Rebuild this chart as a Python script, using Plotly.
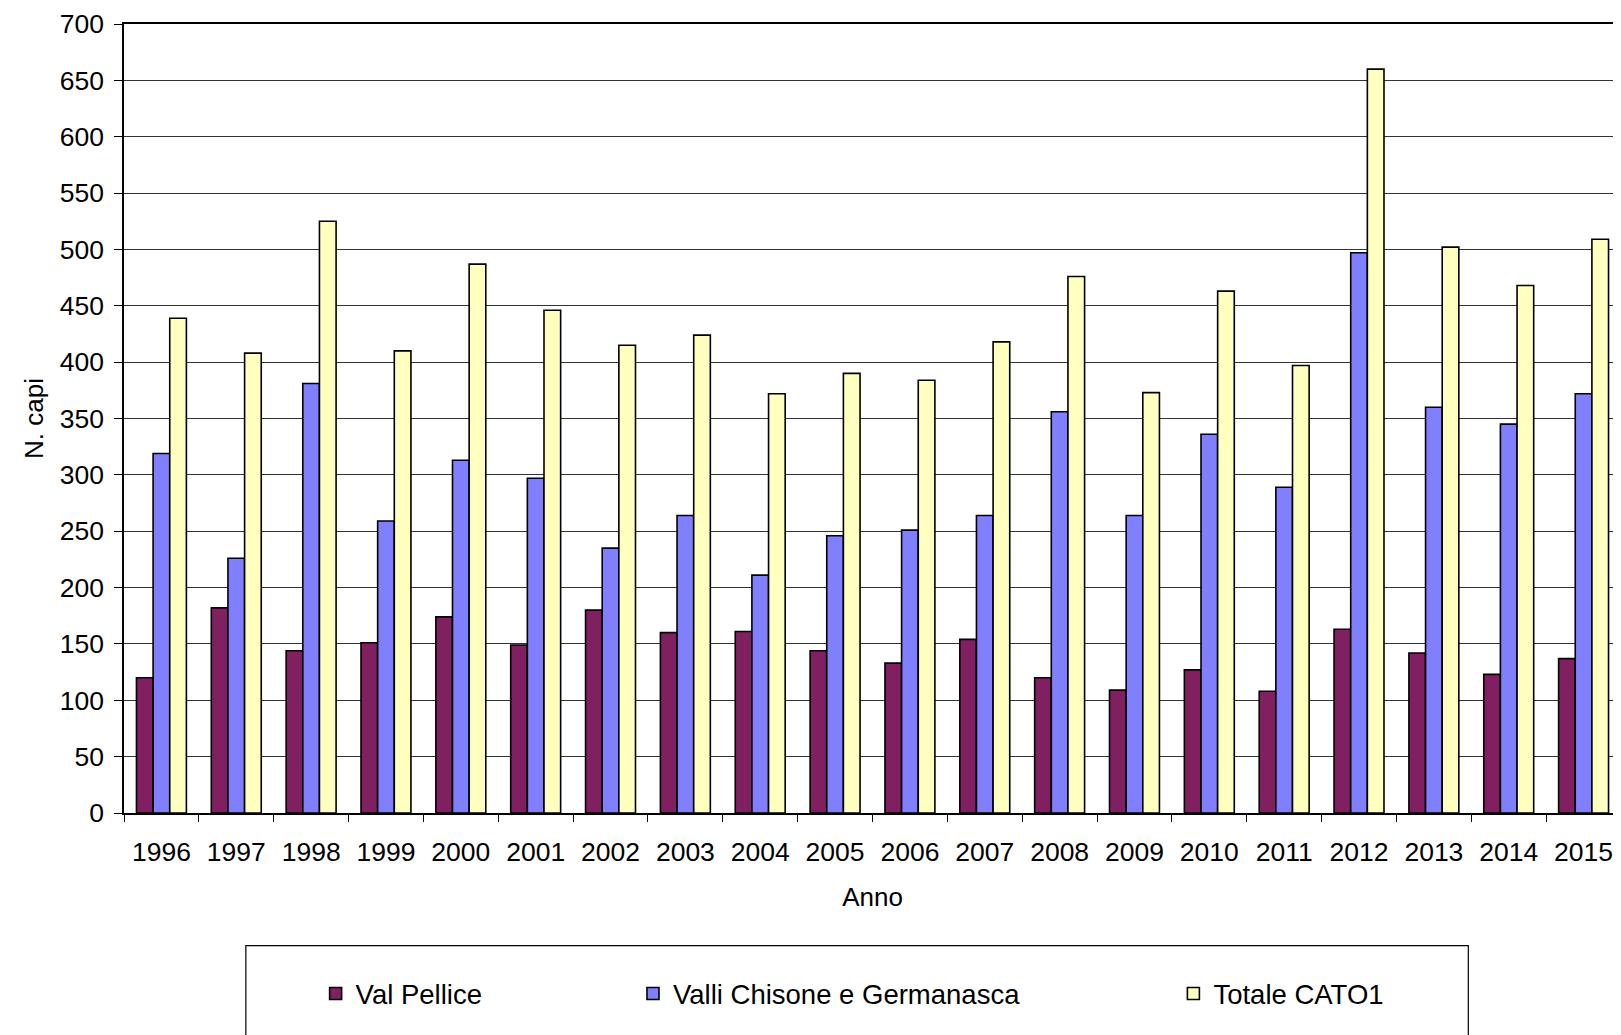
import plotly.graph_objects as go

anni = [str(a) for a in range(1996, 2016)]
val_pellice = [120, 182, 144, 151, 174, 149, 180, 160, 161, 144,
               133, 154, 120, 109, 127, 108, 163, 142, 123, 137]
chisone_germanasca = [319, 226, 381, 259, 313, 297, 235, 264, 211, 246,
                      251, 264, 356, 264, 336, 289, 497, 360, 345, 372]
totale_cato1 = [439, 408, 525, 410, 487, 446, 415, 424, 372, 390,
                384, 418, 476, 373, 463, 397, 660, 502, 468, 509]

serie = [
    ("Val Pellice", val_pellice, "#802060", "legend"),
    ("Valli Chisone e Germanasca", chisone_germanasca, "#8080FF", "legend2"),
    ("Totale CATO1", totale_cato1, "#FFFFC0", "legend3"),
]

FONT = "Liberation Sans, Arial, sans-serif"

fig = go.Figure()
for nome, valori, colore, leg in serie:
    fig.add_trace(go.Bar(
        x=anni, y=valori, name=nome, legend=leg, showlegend=True,
        marker=dict(color=colore, line=dict(color="black", width=1.6)),
    ))

# one legend per series so the entries can be spaced like the original
legend_style = dict(orientation="h", yanchor="middle", xanchor="left",
                    bgcolor="rgba(0,0,0,0)", font=dict(size=27.5, color="black"),
                    itemwidth=30)

# the page body adds an 8px margin, so the margins here are 8px smaller
fig.update_layout(
    width=1621, height=1035,
    margin=dict(l=116, r=8, t=16, b=230, autoexpand=False),
    plot_bgcolor="white", paper_bgcolor="white",
    font=dict(family=FONT, size=26, color="black"),
    barmode="group", bargap=0.333, bargroupgap=0,
    showlegend=True,
    legend=dict(x=0.128, y=-0.229, **legend_style),
    legend2=dict(x=0.34, y=-0.229, **legend_style),
    legend3=dict(x=0.701, y=-0.229, **legend_style),
    shapes=[dict(type="rect", xref="paper", yref="paper",
                 x0=0.0814, x1=0.898, y0=-0.32, y1=-0.168,
                 line=dict(color="black", width=1.2), fillcolor="rgba(0,0,0,0)",
                 layer="below")],
)

fig.update_xaxes(
    title=dict(text="Anno", font=dict(size=26), standoff=22),
    tickson="boundaries", ticks="outside", ticklen=7, tickcolor="black",
    ticklabelstandoff=14, automargin=False,
    showline=True, linecolor="black", linewidth=1.5, mirror=True,
    showgrid=False, tickfont=dict(size=26.5),
)
fig.update_yaxes(
    title=dict(text="N. capi", font=dict(size=26), standoff=9),
    range=[0, 700], dtick=50, ticks="outside", ticklen=8, tickcolor="black",
    ticklabelstandoff=5, automargin=False,
    showline=True, linecolor="black", linewidth=1.5, mirror=True,
    showgrid=True, gridcolor="#333333", gridwidth=1, zeroline=False,
    tickfont=dict(size=26.5),
)

fig.write_html("out.html")
